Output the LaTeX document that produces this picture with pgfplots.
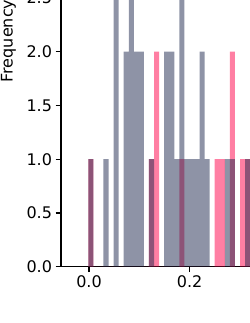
\documentclass[border=0pt]{standalone}
\usepackage{fontspec}
\setmainfont{DejaVu Sans}
\usepackage{pgfplots}
\pgfplotsset{compat=1.18}
\definecolor{pinkbase}{HTML}{FF0047}
\definecolor{navybase}{HTML}{1D274D}
\begin{document}
\begin{tikzpicture}
\begin{axis}[
  scale only axis,
  x=503.3pt, y=107.5pt,
  xmin=-0.0556, xmax=0.5, ymin=0, ymax=4.2,
  axis line style={line width=1.1pt, black},
  tick style={line width=1.1pt, black},
  tick align=outside,
  major tick length=5.5pt,
  xtick={0,0.2},
  ytick={0,0.5,1,1.5,2,2.5},
  xtick pos=bottom, ytick pos=left,
  minor tick num=0,
  /pgf/number format/assume math mode=true,
  xticklabel style={font=\fontsize{16}{19}\selectfont, /pgf/number format/fixed, /pgf/number format/fixed zerofill, /pgf/number format/precision=1},
  yticklabel style={font=\fontsize{16}{19}\selectfont, /pgf/number format/fixed, /pgf/number format/fixed zerofill, /pgf/number format/precision=1},
  ylabel={Frequency},
  every axis y label/.style={at={(axis description cs:0,0.5)}, rotate=90, anchor=base, yshift=48.3pt, font=\fontsize{16}{19}\selectfont},
]
\addplot[ybar interval, fill=pinkbase, fill opacity=0.5, draw=none] coordinates {
(-0.0014,1) (0.00865,0) (0.0187,0) (0.02875,0) (0.0388,0) (0.04885,0) (0.0589,0) (0.06895,0)
(0.0790,0) (0.08905,0) (0.0991,0) (0.10915,0) (0.1192,1) (0.12925,2) (0.1393,0) (0.14935,0)
(0.1594,0) (0.16945,0) (0.1795,1) (0.18955,0) (0.1996,0) (0.20965,0) (0.2197,0) (0.22975,0)
(0.2398,0) (0.24985,1) (0.2599,1) (0.26995,0) (0.2800,2) (0.29005,0) (0.3001,1) (0.31015,1)
(0.3202,1)
};
\addplot[ybar interval, fill=navybase, fill opacity=0.5, draw=none] coordinates {
(-0.0014,1) (0.00865,0) (0.0187,0) (0.02875,1) (0.0388,0) (0.04885,3) (0.0589,0) (0.06895,2)
(0.0790,3) (0.08905,2) (0.0991,2) (0.10915,0) (0.1192,1) (0.12925,0) (0.1393,0) (0.14935,2)
(0.1594,2) (0.16945,1) (0.1795,4) (0.18955,1) (0.1996,1) (0.20965,1) (0.2197,2) (0.22975,1)
(0.2398,0) (0.24985,0) (0.2599,0) (0.26995,1) (0.2800,1) (0.29005,0) (0.3001,0) (0.31015,1)
(0.3202,1)
};
\coordinate (cropBL) at (axis cs:-0.17683,-0.5237);
\coordinate (cropTR) at (axis cs:0.31790,2.4809);
\end{axis}
\pgfresetboundingbox
\useasboundingbox (cropBL) rectangle (cropTR);
\end{tikzpicture}
\end{document}
